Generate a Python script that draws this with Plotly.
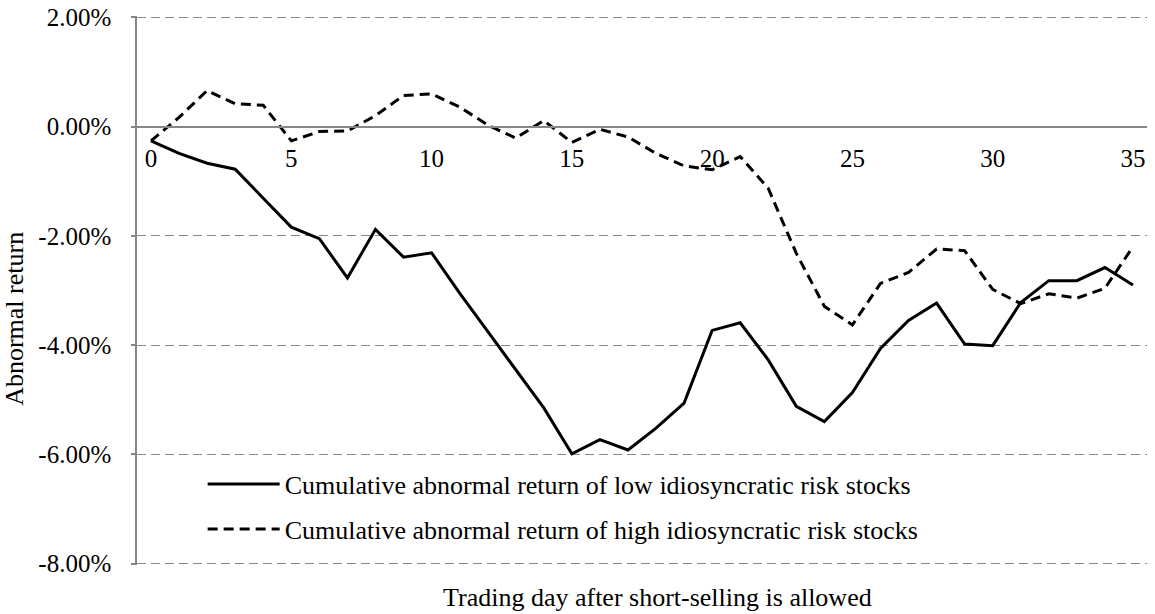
import plotly.graph_objects as go

# Días de negociación después de permitir ventas en corto
dias = list(range(0, 36))

# Rendimiento anormal acumulado (%)
riesgo_bajo = [-0.26, -0.49, -0.67, -0.78, -1.31, -1.84, -2.05, -2.77, -1.88, -2.39,
               -2.31, -3.05, -3.75, -4.45, -5.15, -5.99, -5.73, -5.92, -5.52, -5.06,
               -3.73, -3.59, -4.27, -5.12, -5.40, -4.87, -4.06, -3.55, -3.23, -3.98,
               -4.01, -3.22, -2.82, -2.82, -2.58, -2.90]
riesgo_alto = [-0.26, 0.17, 0.66, 0.42, 0.39, -0.26, -0.09, -0.08, 0.20, 0.57,
               0.60, 0.36, 0.03, -0.21, 0.11, -0.29, -0.05, -0.19, -0.49, -0.72,
               -0.79, -0.55, -1.13, -2.32, -3.29, -3.63, -2.87, -2.67, -2.24, -2.27,
               -2.98, -3.24, -3.06, -3.14, -2.96, -2.20]

nombres = ["Cumulative abnormal return of low idiosyncratic risk stocks",
           "Cumulative abnormal return of high idiosyncratic risk stocks"]
ticks_x = [0, 5, 10, 15, 20, 25, 30, 35]
ticks_y = [2, 0, -2, -4, -6, -8]

FUENTE = "Liberation Serif"
GRIS = "#868686"
# margen pequeño para que plotly dibuje la rejilla en 2% y -8%
y_min, y_max = -8.025, 2.025

fig = go.Figure()
fig.add_trace(go.Scatter(
    x=dias, y=riesgo_bajo, mode="lines", name=nombres[0],
    line=dict(color="black", width=3), legendgroup="a"
))
fig.add_trace(go.Scatter(
    x=dias, y=riesgo_alto, mode="lines", name=nombres[1],
    line=dict(color="black", width=3, dash="10px,6px"), legendgroup="b"
))

fig.update_layout(
    width=1155, height=614,
    margin=dict(l=137, r=8, t=16, b=49, autoexpand=False),
    paper_bgcolor="white", plot_bgcolor="white",
    font=dict(family=FUENTE, size=26, color="black"),
    showlegend=True,
    legend=dict(
        x=0.065, y=0.19, xanchor="left", yanchor="top",
        bgcolor="rgba(0,0,0,0)", traceorder="grouped",
        tracegroupgap=8, itemwidth=72, font=dict(size=26)
    ),
    xaxis=dict(
        range=[-0.5, 35.5], tickvals=ticks_x,
        anchor="free", position=(0 - y_min) / (y_max - y_min),
        showline=True, linecolor=GRIS, linewidth=1.5,
        showgrid=False, zeroline=False, ticks="",
        ticklabelstandoff=10, ticklabeloverflow="allow",
        tickfont=dict(size=25), automargin=False
    ),
    yaxis=dict(
        range=[y_min, y_max], tickvals=ticks_y,
        ticktext=[f"{v:.2f}%" for v in ticks_y],
        showline=True, linecolor=GRIS, linewidth=1.5,
        ticks="outside", ticklen=4, tickcolor=GRIS, tickwidth=1.5,
        showgrid=True, gridcolor=GRIS, gridwidth=1.3, griddash="9px,5px",
        zeroline=False, ticklabelstandoff=15, tickfont=dict(size=25),
        automargin=False
    ),
    annotations=[
        dict(text="Trading day after short-selling is allowed", xref="paper", yref="paper",
             x=0.515, y=-0.06, xanchor="center", yanchor="middle", showarrow=False,
             font=dict(size=26)),
        dict(text="Abnormal return", xref="paper", yref="paper",
             x=-0.122, y=0.448, xanchor="center", yanchor="middle", textangle=-90,
             showarrow=False, font=dict(size=26)),
    ]
)

# quitar el margen por defecto del body para que la figura quede en (0,0)
fig.write_html("out.html", config={"displayModeBar": False},
               post_script="document.body.style.margin='0';")
